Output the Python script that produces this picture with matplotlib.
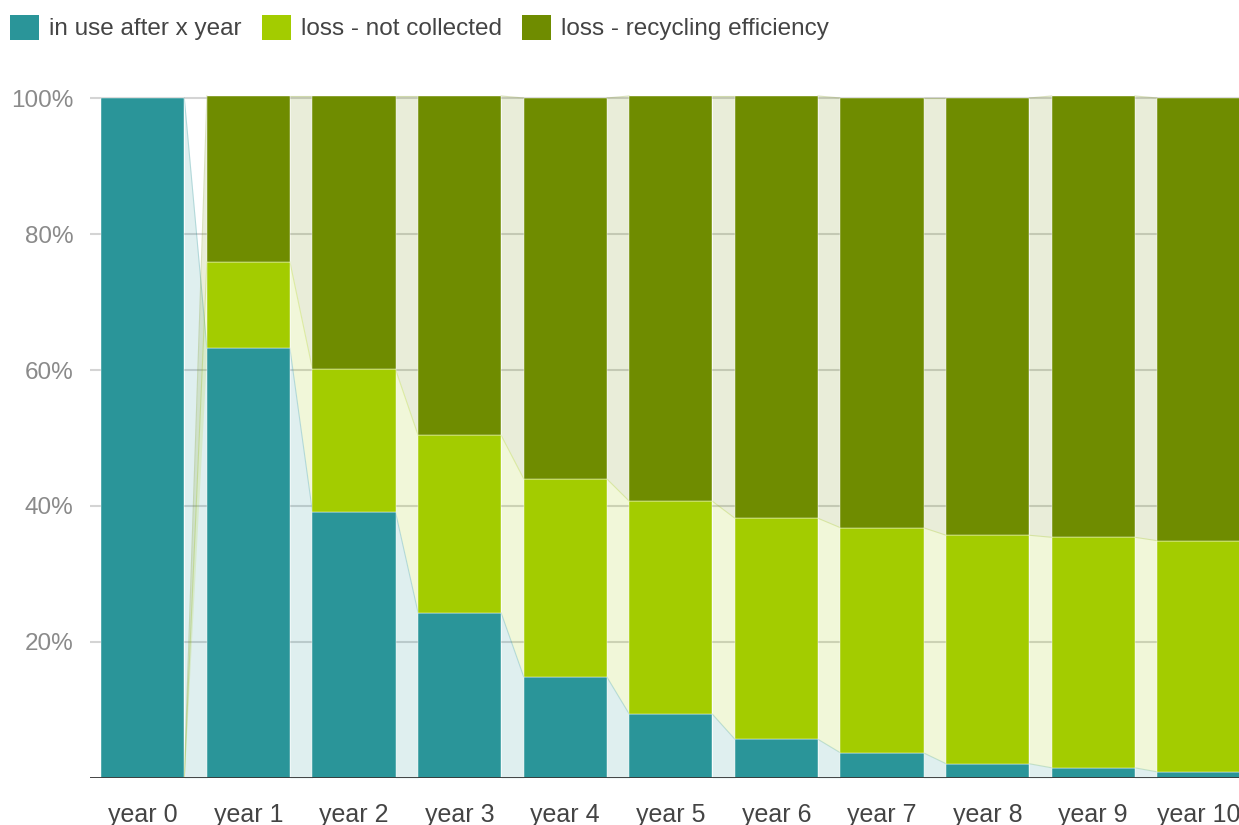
import numpy as np
import matplotlib.pyplot as plt
from matplotlib.patches import Patch

plt.rcParams['font.family'] = ['Liberation Sans', 'DejaVu Sans']

years = ['year 0', 'year 1', 'year 2', 'year 3', 'year 4', 'year 5',
         'year 6', 'year 7', 'year 8', 'year 9', 'year 10']
in_use = [100, 63.2, 39.1, 24.3, 14.9, 9.4, 5.7, 3.7, 2.1, 1.5, 0.9]
not_collected = [np.nan, 12.7, 21.0, 26.1, 29.1, 31.3, 32.5, 33.1, 33.6, 33.9, 34.0]
recycling = [np.nan, 24.4, 40.2, 49.9, 56.0, 59.6, 62.1, 63.2, 64.3, 64.9, 65.1]

series = [
    ('in use after x year', in_use, '#2a9599'),
    ('loss - not collected', not_collected, '#a3cc00'),
    ('loss - recycling efficiency', recycling, '#6f8c00'),
]

W, H = 1239, 825
fig = plt.figure(figsize=(W / 100, H / 100), dpi=100)
# axes in pixel units: left 90, bottom at y=778, 100% at y=98
ax = fig.add_axes([90 / W, 47 / H, 1161.6 / W, 680 * 1.03 / H])
ax.set_xlim(-0.5, 10.5)
ax.set_ylim(0, 103)

x = np.arange(len(years))
width = 0.786

bottom = np.zeros(len(years))
for label, vals, color in series:
    vals = np.array(vals, dtype=float)
    missing = np.isnan(vals)
    lo = np.where(missing, 0, bottom)
    hi = lo + np.nan_to_num(vals)
    ax.bar(x, hi - lo, width, bottom=lo, color=color, zorder=2,
           edgecolor='white', linewidth=0.3, label=label)
    # connectors between neighbouring bars
    for i in range(len(years) - 1):
        xs = [x[i] + width / 2, x[i + 1] - width / 2]
        ax.fill_between(xs, [lo[i], lo[i + 1]], [hi[i], hi[i + 1]],
                        color=color, alpha=0.15, linewidth=0, zorder=1)
        ax.plot(xs, [hi[i], hi[i + 1]], color=color, alpha=0.25, lw=0.8, zorder=1)
    bottom = hi

ax.set_yticks([20, 40, 60, 80, 100])
ax.set_yticklabels(['20%', '40%', '60%', '80%', '100%'])
ax.yaxis.grid(True, color='#d4d4d4', linewidth=1.5, zorder=0)
ax.set_axisbelow(True)
ax.axhline(0, color='#333333', linewidth=2, zorder=3)

ax.set_xticks(x)
ax.set_xticklabels(years)
ax.tick_params(axis='x', length=0, pad=18, labelsize=18, labelcolor='#444444')
ax.tick_params(axis='y', length=0, pad=12, labelsize=17.5, labelcolor='#8a8a8a')
for s in ax.spines.values():
    s.set_visible(False)

handles = [Patch(facecolor=c, edgecolor='none') for _, _, c in series]
labels = [lab for lab, _, _ in series]
fig.legend(handles, labels, loc='upper left', bbox_to_anchor=(0 / W, 1 - 5 / H),
           ncol=3, frameon=False, fontsize=17.5, labelcolor='#444444',
           handlelength=1.2, handleheight=1.2, handletextpad=0.4,
           columnspacing=0.85, borderaxespad=0)

fig.savefig('out.png', dpi=100)
